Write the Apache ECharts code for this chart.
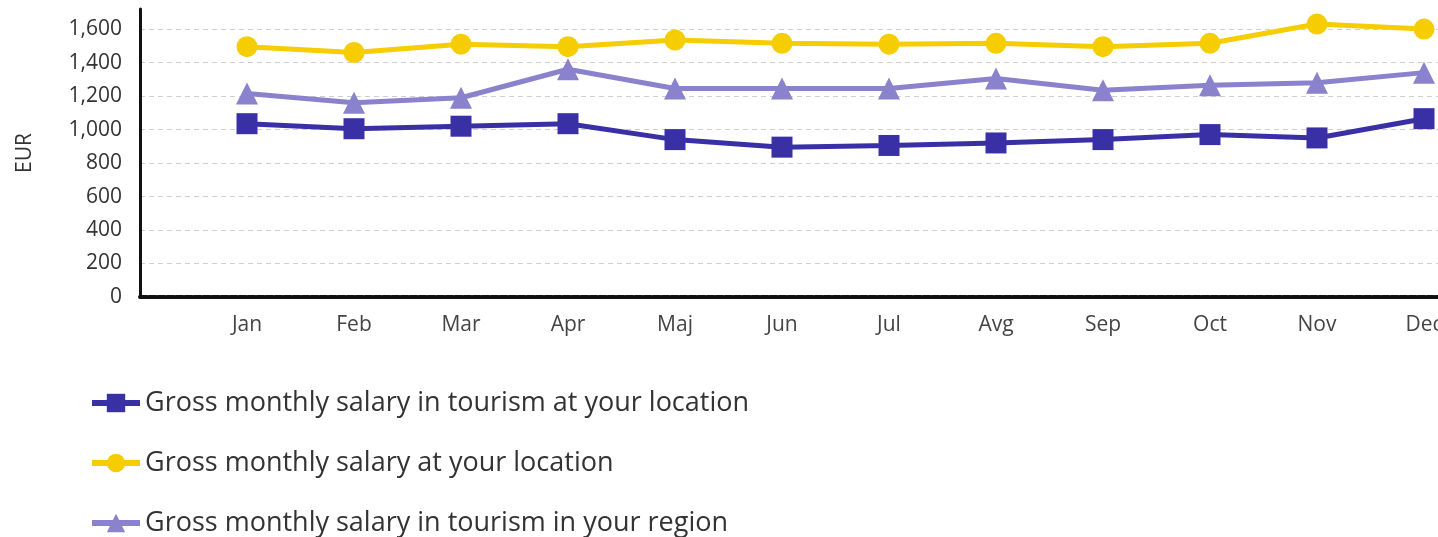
<!DOCTYPE html>
<html>
<head>
<meta charset="utf-8">
<script src="https://cdn.jsdelivr.net/npm/echarts@6/dist/echarts.min.js"></script>
<style>
  html, body { margin: 0; padding: 0; background: #fff; }
  #chart { width: 1438px; height: 537px; }
</style>
</head>
<body>
<div id="chart"></div>
<script>
// Month labels shown under the x axis
const months = ['Jan', 'Feb', 'Mar', 'Apr', 'Maj', 'Jun', 'Jul', 'Avg', 'Sep', 'Oct', 'Nov', 'Dec'];

// Gross monthly salaries, EUR
const tourismLocation = [1035, 1005, 1020, 1035, 940, 895, 905, 920, 940, 970, 950, 1065];
const allLocation     = [1495, 1460, 1510, 1495, 1535, 1515, 1510, 1515, 1495, 1515, 1630, 1600];
const tourismRegion   = [1215, 1160, 1190, 1360, 1245, 1245, 1245, 1305, 1235, 1265, 1280, 1340];

const seriesNames = [
  'Gross monthly salary in tourism at your location',
  'Gross monthly salary at your location',
  'Gross monthly salary in tourism in your region'
];

// Months sit at positions 1..12 on the x scale
const toPoints = arr => arr.map((v, i) => [i + 1, v]);

const FONT = '"Open Sans", Lato, sans-serif';

// One legend block per series, stacked under the chart
const legendRows = seriesNames.map((name, i) => ({
  orient: 'vertical',
  left: 89,
  top: 387 + i * 60,
  padding: 0,
  itemWidth: 48,
  itemHeight: 23,
  lineStyle: { width: 6 },
  textStyle: { color: '#333', fontSize: 27, lineHeight: 32, fontFamily: FONT, padding: [0, 0, 0, 0] },
  data: [name]
}));

const chart = echarts.init(document.getElementById('chart'));
chart.setOption({
  animation: false,
  backgroundColor: '#ffffff',
  grid: { left: 140, top: 9, width: 1337.5, bottom: 240, containLabel: false, outerBoundsMode: 'none' },
  xAxis: {
    type: 'value',
    min: 0,
    max: 12.5,
    interval: 1,
    axisLine: { show: true, lineStyle: { color: '#111', width: 4, type: [7, 2] } },
    axisTick: { show: false },
    splitLine: { show: false },
    axisLabel: {
      margin: 18,
      color: '#444',
      fontSize: 21,
      fontFamily: FONT,
      formatter: v => (Number.isInteger(v) && months[v - 1]) ? months[v - 1] : ''
    }
  },
  yAxis: {
    type: 'value',
    min: 0,
    max: 1720,
    interval: 200,
    name: 'EUR',
    nameLocation: 'middle',
    nameRotate: 90,
    nameGap: 104,
    nameTextStyle: { color: '#333', fontSize: 21, fontFamily: FONT },
    axisLine: { show: true, lineStyle: { color: '#111', width: 3 } },
    axisTick: { show: false },
    axisLabel: {
      margin: 18,
      color: '#333',
      fontSize: 21,
      fontFamily: FONT,
      showMaxLabel: false,
      formatter: v => v.toLocaleString('en-US')
    },
    splitLine: {
      show: true,
      showMaxLine: false,
      lineStyle: { color: '#cfcfcf', width: 1, type: [5, 4] }
    }
  },
  legend: legendRows,
  series: [
    {
      name: seriesNames[0],
      type: 'line',
      data: toPoints(tourismLocation),
      symbol: 'rect',
      symbolSize: 21,
      lineStyle: { color: '#3a30a6', width: 5 },
      itemStyle: { color: '#3a30a6' },
      z: 4
    },
    {
      name: seriesNames[1],
      type: 'line',
      data: toPoints(allLocation),
      symbol: 'circle',
      symbolSize: 21,
      lineStyle: { color: '#f5cd00', width: 5 },
      itemStyle: { color: '#f5cd00' },
      z: 2
    },
    {
      name: seriesNames[2],
      type: 'line',
      data: toPoints(tourismRegion),
      symbol: 'triangle',
      symbolSize: 22,
      lineStyle: { color: '#8a82cc', width: 5 },
      itemStyle: { color: '#8a82cc' },
      z: 3
    }
  ]
});
</script>
</body>
</html>
